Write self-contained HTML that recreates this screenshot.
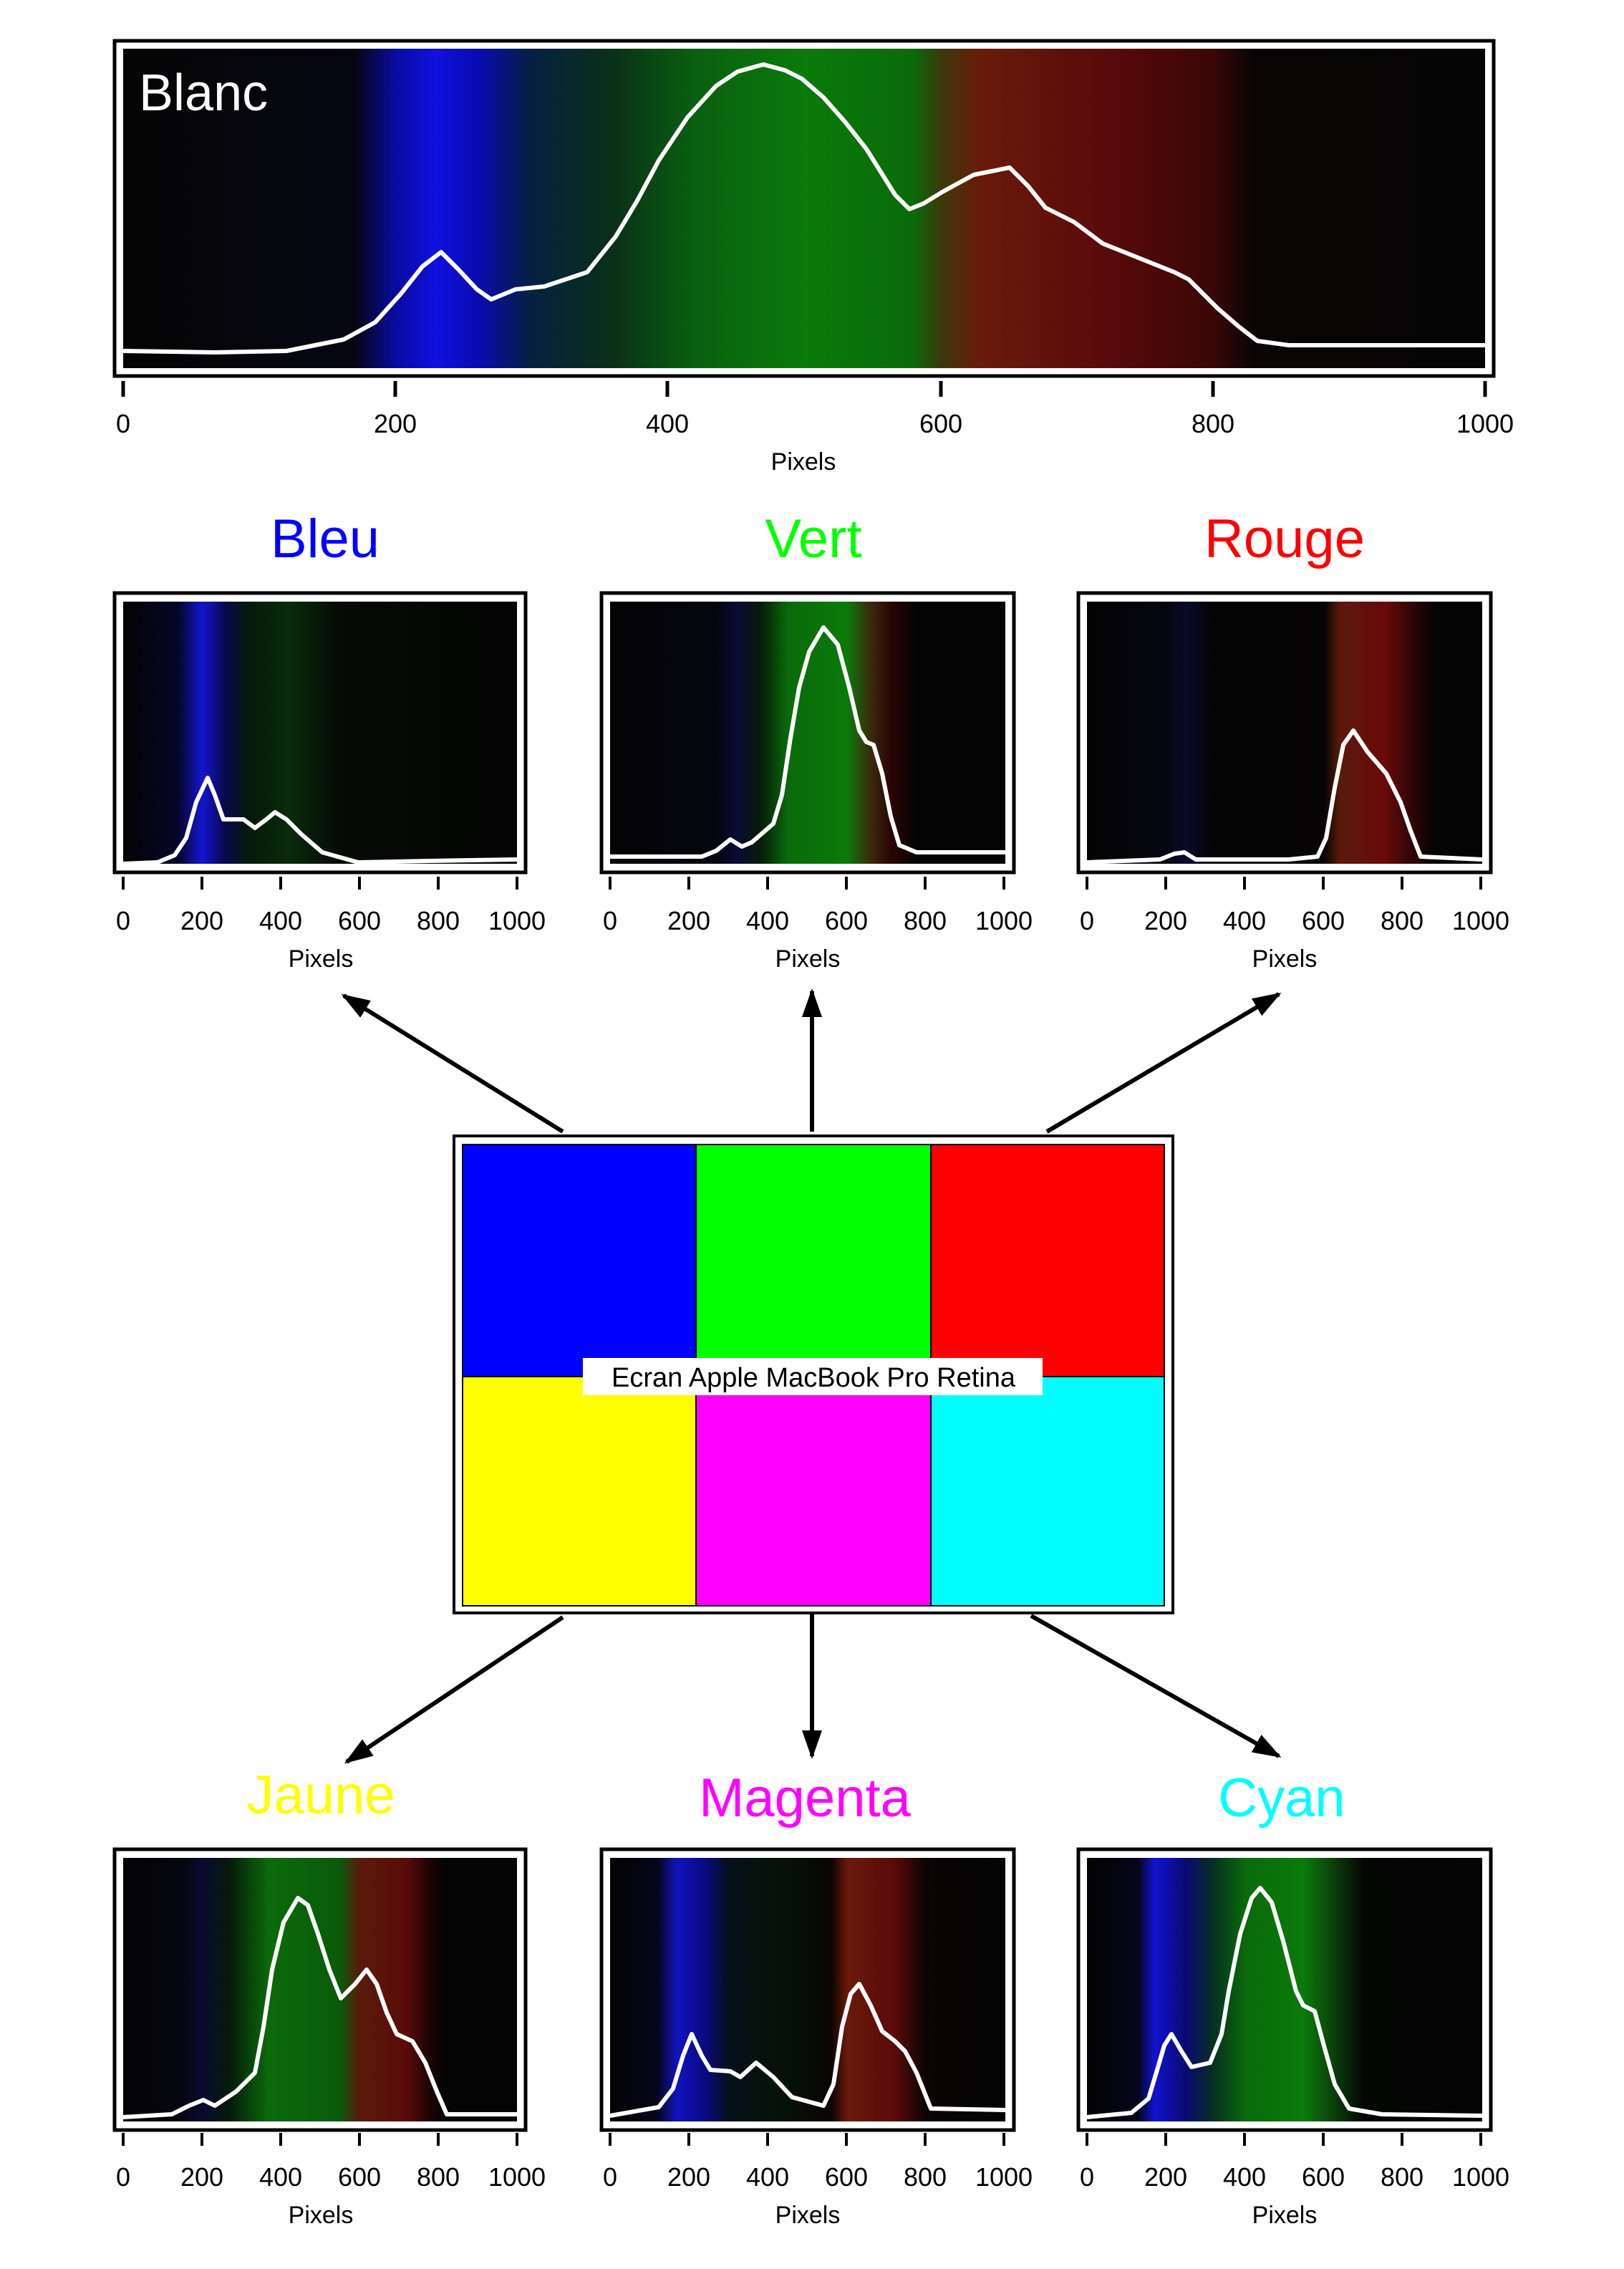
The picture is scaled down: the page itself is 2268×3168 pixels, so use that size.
<!DOCTYPE html>
<html><head><meta charset="utf-8"><style>
html,body{margin:0;padding:0;background:#fff}
svg{display:block}
text{font-family:"Liberation Sans",sans-serif}
</style></head><body>
<svg width="2268" height="3168" viewBox="0 0 1134 1584" xmlns="http://www.w3.org/2000/svg">
<defs>
<marker id="ah" markerWidth="10" markerHeight="8" refX="9" refY="4" orient="auto" markerUnits="userSpaceOnUse" viewBox="0 0 10 8"><path d="M0,0 L10,4 L0,8 z" fill="#000"/></marker>
<marker id="ah2" markerWidth="20" markerHeight="14" refX="18" refY="7" orient="auto" markerUnits="userSpaceOnUse" viewBox="0 0 20 14"><path d="M0,0 L20,7 L0,14 z" fill="#000"/></marker>
<linearGradient id="gW" x1="0" x2="1" y1="0" y2="0">
<stop offset="0" stop-color="#050505"/><stop offset="0.17" stop-color="#060612"/>
<stop offset="0.2" stop-color="#0a0aa0"/><stop offset="0.23" stop-color="#1010e0"/><stop offset="0.26" stop-color="#0a0ab0"/>
<stop offset="0.3" stop-color="#062040"/><stop offset="0.36" stop-color="#0a3018"/>
<stop offset="0.42" stop-color="#0a6010"/><stop offset="0.5" stop-color="#0a7a0a"/><stop offset="0.58" stop-color="#0a6a0a"/>
<stop offset="0.6" stop-color="#3a3a0a"/><stop offset="0.63" stop-color="#6a1a0a"/><stop offset="0.72" stop-color="#5a0a0a"/>
<stop offset="0.8" stop-color="#3a0606"/><stop offset="0.83" stop-color="#0a0505"/><stop offset="1" stop-color="#050505"/>
</linearGradient>
<linearGradient id="gB" x1="0" x2="1"><stop offset="0" stop-color="#040404"/><stop offset="0.14" stop-color="#05052a"/><stop offset="0.2" stop-color="#1515d0"/><stop offset="0.26" stop-color="#08084a"/><stop offset="0.32" stop-color="#061a0a"/><stop offset="0.42" stop-color="#082a0a"/><stop offset="0.55" stop-color="#050a05"/><stop offset="1" stop-color="#040404"/></linearGradient>
<linearGradient id="gV" x1="0" x2="1"><stop offset="0" stop-color="#040404"/><stop offset="0.27" stop-color="#050510"/><stop offset="0.32" stop-color="#0a0a35"/><stop offset="0.38" stop-color="#061a0a"/><stop offset="0.45" stop-color="#0a6a0a"/><stop offset="0.6" stop-color="#0a7a0a"/><stop offset="0.66" stop-color="#3a2a0a"/><stop offset="0.71" stop-color="#2a0505"/><stop offset="0.78" stop-color="#040404"/><stop offset="1" stop-color="#040404"/></linearGradient>
<linearGradient id="gR" x1="0" x2="1"><stop offset="0" stop-color="#040404"/><stop offset="0.2" stop-color="#05050f"/><stop offset="0.25" stop-color="#0a0a2a"/><stop offset="0.32" stop-color="#040404"/><stop offset="0.6" stop-color="#060404"/><stop offset="0.64" stop-color="#5a1a0a"/><stop offset="0.75" stop-color="#6a0a0a"/><stop offset="0.83" stop-color="#2a0505"/><stop offset="0.88" stop-color="#040404"/><stop offset="1" stop-color="#040404"/></linearGradient>
<linearGradient id="gJ" x1="0" x2="1"><stop offset="0" stop-color="#040404"/><stop offset="0.15" stop-color="#05050f"/><stop offset="0.2" stop-color="#0a0a30"/><stop offset="0.27" stop-color="#061a0a"/><stop offset="0.37" stop-color="#0a6a0a"/><stop offset="0.55" stop-color="#0a5a0a"/><stop offset="0.6" stop-color="#5a1a0a"/><stop offset="0.72" stop-color="#5a0a0a"/><stop offset="0.78" stop-color="#1a0404"/><stop offset="0.82" stop-color="#040404"/><stop offset="1" stop-color="#040404"/></linearGradient>
<linearGradient id="gM" x1="0" x2="1"><stop offset="0" stop-color="#040404"/><stop offset="0.12" stop-color="#05051a"/><stop offset="0.17" stop-color="#1212c0"/><stop offset="0.24" stop-color="#0a0a80"/><stop offset="0.3" stop-color="#06101a"/><stop offset="0.45" stop-color="#061206"/><stop offset="0.56" stop-color="#0a0404"/><stop offset="0.6" stop-color="#6a1a0a"/><stop offset="0.72" stop-color="#5a0a0a"/><stop offset="0.8" stop-color="#0a0404"/><stop offset="1" stop-color="#040404"/></linearGradient>
<linearGradient id="gC" x1="0" x2="1"><stop offset="0" stop-color="#040404"/><stop offset="0.13" stop-color="#05051a"/><stop offset="0.17" stop-color="#1212d0"/><stop offset="0.25" stop-color="#0a0a70"/><stop offset="0.32" stop-color="#063020"/><stop offset="0.4" stop-color="#0a6a0a"/><stop offset="0.55" stop-color="#0a7a0a"/><stop offset="0.63" stop-color="#0a3a0a"/><stop offset="0.7" stop-color="#040604"/><stop offset="1" stop-color="#040404"/></linearGradient>
</defs>

<!-- Top plot -->
<rect x="80" y="28.5" width="963" height="234" fill="#fff" stroke="#000" stroke-width="2.5"/>
<rect x="86" y="34" width="951" height="223" fill="url(#gW)"/>
<polyline fill="none" stroke="#fff" stroke-width="3" stroke-linejoin="round" points="86,245 150,246 200,245 240,237 262,225 280,205 295,186 308,176 320,188 333,202 343,209 360,202 380,200 410,190 430,165 445,140 460,112 480,82 500,60 515,50 533,45 548,49 560,55 575,68 590,85 605,104 615,120 625,136 635,146 645,142 658,134 680,122 705,117 718,130 730,145 750,155 770,170 800,182 820,190 830,195 850,215 865,228 878,238 900,241 960,241 1037,241"/>
<text x="97" y="77" font-size="36" fill="#fff">Blanc</text>
<g stroke="#000" stroke-width="2.5">
<line x1="86" y1="266" x2="86" y2="277"/><line x1="276" y1="266" x2="276" y2="277"/><line x1="466" y1="266" x2="466" y2="277"/><line x1="657" y1="266" x2="657" y2="277"/><line x1="847" y1="266" x2="847" y2="277"/><line x1="1037" y1="266" x2="1037" y2="277"/>
</g>
<g font-size="18" text-anchor="middle" fill="#000">
<text x="86" y="302">0</text><text x="276" y="302">200</text><text x="466" y="302">400</text><text x="657" y="302">600</text><text x="847" y="302">800</text><text x="1037" y="302">1000</text>
<text x="561" y="328" font-size="17">Pixels</text>
</g>

<!-- titles -->
<g font-size="38" text-anchor="middle">
<text x="227" y="389" fill="#0000ff">Bleu</text>
<text x="568" y="389" fill="#00ff00">Vert</text>
<text x="897" y="389" fill="#ff0000">Rouge</text>
<text x="224" y="1266" fill="#ffff00">Jaune</text>
<text x="562" y="1268" fill="#ff00ff">Magenta</text>
<text x="895" y="1268" fill="#00ffff">Cyan</text>
</g>

<!-- small panels -->
<g id="p1">
<rect x="80" y="414" width="287" height="195" fill="#fff" stroke="#000" stroke-width="2.5"/>
<rect x="86" y="420" width="275" height="183" fill="url(#gB)"/>
<polyline fill="none" stroke="#fff" stroke-width="3" stroke-linejoin="round" points="86,603 110,602 122,597 130,585 137,560 145,543 150,555 156,572 170,572 178,578 186,572 192,567 200,572 210,582 225,595 250,602 300,601 361,600"/>
</g>
<g>
<rect x="420" y="414" width="288" height="195" fill="#fff" stroke="#000" stroke-width="2.5"/>
<rect x="426" y="420" width="276" height="183" fill="url(#gV)"/>
<polyline fill="none" stroke="#fff" stroke-width="3" stroke-linejoin="round" points="426,598 490,598 500,594 510,586 518,591 525,588 540,575 546,555 552,515 558,480 565,455 575,438 585,450 593,480 600,510 605,518 610,520 616,540 622,570 628,590 640,595 702,595"/>
</g>
<g>
<rect x="753" y="414" width="288" height="195" fill="#fff" stroke="#000" stroke-width="2.5"/>
<rect x="759" y="420" width="276" height="183" fill="url(#gR)"/>
<polyline fill="none" stroke="#fff" stroke-width="3" stroke-linejoin="round" points="759,602 810,600 820,596 827,595 835,600 900,600 920,598 926,585 932,550 938,520 945,510 955,525 968,540 978,560 985,580 992,598 1035,600"/>
</g>
<g>
<rect x="80" y="1291" width="287" height="196" fill="#fff" stroke="#000" stroke-width="2.5"/>
<rect x="86" y="1297" width="275" height="184" fill="url(#gJ)"/>
<polyline fill="none" stroke="#fff" stroke-width="3" stroke-linejoin="round" points="86,1478 120,1476 132,1470 142,1466 150,1470 165,1460 178,1447 184,1415 190,1375 198,1342 208,1325 215,1330 222,1350 230,1375 238,1395 248,1385 256,1375 263,1385 270,1405 277,1420 288,1425 297,1440 305,1460 312,1476 361,1476"/>
</g>
<g>
<rect x="420" y="1291" width="288" height="196" fill="#fff" stroke="#000" stroke-width="2.5"/>
<rect x="426" y="1297" width="276" height="184" fill="url(#gM)"/>
<polyline fill="none" stroke="#fff" stroke-width="3" stroke-linejoin="round" points="426,1477 460,1471 470,1458 477,1435 483,1420 490,1435 496,1445 510,1446 517,1450 528,1440 540,1450 553,1464 575,1470 582,1455 588,1415 594,1392 600,1385 608,1400 616,1418 625,1425 632,1432 640,1447 650,1472 702,1473"/>
</g>
<g>
<rect x="753" y="1291" width="288" height="196" fill="#fff" stroke="#000" stroke-width="2.5"/>
<rect x="759" y="1297" width="276" height="184" fill="url(#gC)"/>
<polyline fill="none" stroke="#fff" stroke-width="3" stroke-linejoin="round" points="759,1478 790,1475 802,1465 808,1445 813,1428 818,1420 825,1432 832,1443 845,1440 853,1420 858,1390 866,1350 874,1325 880,1318 888,1328 896,1355 905,1390 910,1400 918,1404 925,1430 932,1455 942,1472 965,1476 1035,1477"/>
</g>

<!-- small axes -->
<g stroke="#000" stroke-width="2">
<g id="tk1"><line x1="86" y1="612" x2="86" y2="621"/><line x1="141" y1="612" x2="141" y2="621"/><line x1="196" y1="612" x2="196" y2="621"/><line x1="251" y1="612" x2="251" y2="621"/><line x1="306" y1="612" x2="306" y2="621"/><line x1="361" y1="612" x2="361" y2="621"/></g>
<use href="#tk1" x="340"/><use href="#tk1" x="673"/>
<use href="#tk1" y="877"/><use href="#tk1" x="340" y="877"/><use href="#tk1" x="673" y="877"/>
</g>
<g font-size="18" text-anchor="middle" fill="#000" id="lb1">
<text x="86" y="649">0</text><text x="141" y="649">200</text><text x="196" y="649">400</text><text x="251" y="649">600</text><text x="306" y="649">800</text><text x="361" y="649">1000</text><text x="224" y="675" font-size="17">Pixels</text>
</g>
<use href="#lb1" x="340"/><use href="#lb1" x="673"/>
<use href="#lb1" y="877"/><use href="#lb1" x="340" y="877"/><use href="#lb1" x="673" y="877"/>

<!-- center box -->
<rect x="317" y="793" width="502" height="333" fill="#fff" stroke="#000" stroke-width="2"/>
<rect x="323" y="799" width="163" height="162" fill="#0000ff"/>
<rect x="486" y="799" width="164" height="162" fill="#00ff00"/>
<rect x="650" y="799" width="163" height="162" fill="#ff0000"/>
<rect x="323" y="961" width="163" height="160" fill="#ffff00"/>
<rect x="486" y="961" width="164" height="160" fill="#ff00ff"/>
<rect x="650" y="961" width="163" height="160" fill="#00ffff"/>
<g stroke="#000" stroke-width="1"><line x1="486" y1="799" x2="486" y2="1121"/><line x1="650" y1="799" x2="650" y2="1121"/><line x1="323" y1="961" x2="813" y2="961"/><rect x="323" y="799" width="490" height="322" fill="none"/></g>
<rect x="407" y="948" width="321" height="26" fill="#fff"/>
<text x="568" y="968" font-size="19" text-anchor="middle" fill="#000">Ecran Apple MacBook Pro Retina</text>

<!-- arrows -->
<g stroke="#000" stroke-width="3" fill="none">
<line x1="393" y1="790" x2="240" y2="695" marker-end="url(#ah2)"/>
<line x1="567" y1="790" x2="567" y2="692" marker-end="url(#ah2)"/>
<line x1="731" y1="790" x2="893" y2="694" marker-end="url(#ah2)"/>
<line x1="393" y1="1129" x2="242" y2="1230" marker-end="url(#ah2)"/>
<line x1="567" y1="1127" x2="567" y2="1226" marker-end="url(#ah2)"/>
<line x1="720" y1="1128" x2="893" y2="1226" marker-end="url(#ah2)"/>
</g>
</svg>
</body></html>
